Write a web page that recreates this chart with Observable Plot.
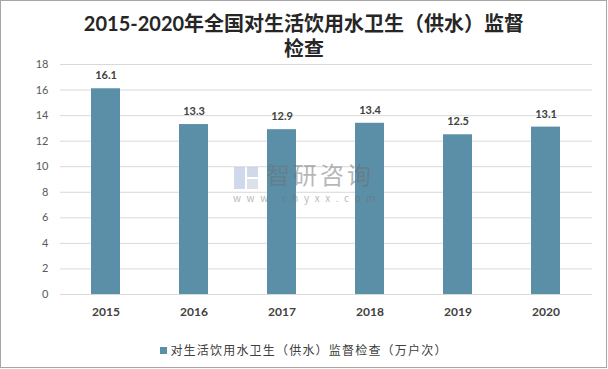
<!DOCTYPE html>
<html><head><meta charset="utf-8">
<script src="https://cdn.jsdelivr.net/npm/d3@7"></script>
<script src="https://cdn.jsdelivr.net/npm/@observablehq/plot@0.6"></script>
<style>
body{margin:0;background:#fff;}
#wrap{position:relative;width:608px;height:369px;overflow:hidden;font-family:Lato,"Noto Sans CJK SC",sans-serif;}
#frame{position:absolute;left:0;top:0;width:605px;height:366px;border:1px solid #a6a6a6;pointer-events:none;}
#title{position:absolute;left:0;top:11px;width:608px;text-align:center;font-size:20px;font-weight:bold;color:#262626;line-height:25px;}
#legend{position:absolute;left:0;top:341px;width:608px;text-align:center;font-size:12px;color:#404040;letter-spacing:1.2px;font-family:"Noto Sans CJK SC",sans-serif;line-height:18px;}
#legend i{display:inline-block;width:7px;height:7px;background:#5b8fa8;margin-right:3px;vertical-align:1px;}
#chart{position:absolute;left:0;top:0;}
.wm{position:absolute;color:rgba(110,110,110,0.5);font-family:"Noto Sans CJK SC",sans-serif;white-space:nowrap;}
#wm1{left:266px;top:162px;font-size:24px;line-height:24px;letter-spacing:3px;}
#wm2{left:233px;top:192px;font-size:10px;line-height:11px;letter-spacing:5.6px;}
.logo{position:absolute;background:rgba(150,170,210,0.45);}
</style></head>
<body>
<div id="wrap">
<div id="chart"></div>
<div id="title">2015-2020年全国对生活饮用水卫生（供水）监督<br>检查</div>
<div class="logo" style="left:234px;top:167px;width:11px;height:22px"></div>
<div class="logo" style="left:247px;top:167px;width:11px;height:10px"></div>
<div class="logo" style="left:247px;top:179px;width:11px;height:10px;background:rgba(170,180,200,0.4)"></div>
<div id="wm1" class="wm">智研咨询</div>
<div id="wm2" class="wm">www.chyxx.com</div>
<div id="legend"><i></i>对生活饮用水卫生（供水）监督检查（万户次）</div>
<div id="frame"></div>
</div>
<script>
const years = ["2015","2016","2017","2018","2019","2020"];
const values = [16.1, 13.3, 12.9, 13.4, 12.5, 13.1];
const yTicks = [0,2,4,6,8,10,12,14,16,18];
const data = years.map((y,i)=>({year:y, value:values[i]}));
const color = "#5b8fa8";
const chart = Plot.plot({
  width:608, height:369,
  marginLeft:60, marginRight:16, marginTop:64, marginBottom:75,
  style:{fontFamily:'Lato,"Noto Sans CJK SC",sans-serif', background:"transparent"},
  x:{domain:years, paddingInner:0.67, paddingOuter:0.335, label:null},
  y:{domain:[0,18], ticks:yTicks, label:null},
  marks:[
    Plot.gridY(yTicks,{stroke:"#d9d9d9", strokeOpacity:1}),
    Plot.barY(data,{x:"year", y:"value", fill:color}),
    Plot.text(data,{x:"year", y:"value", text:d=>d.value.toFixed(1), dy:-13, fontSize:11, fontWeight:"bold", fill:"#404040"}),
    Plot.axisY({ticks:yTicks, tickSize:0, tickPadding:12, fontSize:11, color:"#595959", label:null}),
    Plot.axisX({tickSize:0, tickPadding:13, fontSize:12, fontWeight:"bold", color:"#404040", label:null})
  ]
});
document.getElementById("chart").appendChild(chart);
</script>
</body></html>
